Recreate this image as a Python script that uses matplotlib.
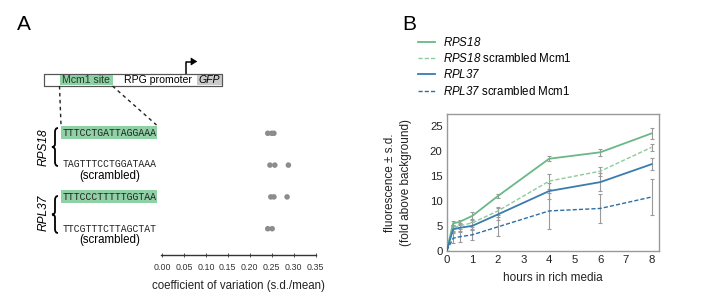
import matplotlib
matplotlib.use("Agg")
import matplotlib.pyplot as plt
from matplotlib.patches import Rectangle, FancyArrowPatch, PathPatch
from matplotlib.path import Path
from matplotlib.lines import Line2D

plt.rcParams['font.family'] = ['Liberation Sans', 'DejaVu Sans']
plt.rcParams['mathtext.fontset'] = 'custom'
plt.rcParams['mathtext.it'] = 'Liberation Sans:italic'
plt.rcParams['mathtext.rm'] = 'Liberation Sans:italic'

# ---------------- data ----------------
# Panel A: coefficient of variation per construct (replicates)
constructs = ["RPS18 wt", "RPS18 scrambled", "RPL37 wt", "RPL37 scrambled"]
sequences = ["TTTCCTGATTAGGAAA", "TAGTTTCCTGGATAAA", "TTTCCCTTTTTGGTAA", "TTCGTTTCTTAGCTAT"]
cv_rps18 = [0.241, 0.250, 0.255]
cv_rps18_scr = [0.246, 0.257, 0.288]
cv_rpl37 = [0.248, 0.255, 0.285]
cv_rpl37_scr = [0.241, 0.251]
cv_ticks = [0.00, 0.05, 0.10, 0.15, 0.20, 0.25, 0.30, 0.35]

# Panel B: fluorescence time course
hours = [0, 0.25, 0.5, 1, 2, 4, 6, 8]
rps18 = [0, 5.5, 5.8, 7.0, 11.0, 18.5, 19.8, 23.6]
rps18_err = [0, 0.4, 0.4, 0.8, 0.4, 0.5, 0.7, 1.1]
rps18_scr = [0, 4.6, 5.0, 5.6, 8.0, 14.0, 16.0, 20.8]
rps18_scr_err = [0, 0.6, 0.6, 0.8, 0.8, 1.5, 0.9, 0.7]
rpl37 = [0, 4.3, 4.6, 5.0, 7.3, 12.0, 13.8, 17.4]
rpl37_err = [0, 0.6, 0.6, 0.7, 1.2, 1.6, 1.8, 1.2]
rpl37_scr = [0, 2.5, 2.8, 3.2, 4.8, 8.0, 8.5, 10.8]
rpl37_scr_err = [0, 1.0, 1.0, 1.0, 1.9, 3.6, 3.0, 3.7]
b_xticks = [0, 1, 2, 3, 4, 5, 6, 7, 8]
b_yticks = [0, 5, 10, 15, 20, 25]

W, H = 707, 308
fig = plt.figure(figsize=(W / 100, H / 100), dpi=100)

def fax(l, t, r, b):
    return fig.add_axes([l / W, 1 - b / H, (r - l) / W, (b - t) / H])

# overlay axes in pixel coordinates for the schematic
ov = fax(0, 0, W, H)
ov.set_xlim(0, W)
ov.set_ylim(H, 0)
ov.axis('off')

GREEN_BOX = '#8fd0a5'
ov.text(17, 25, 'A', fontsize=15, va='center', ha='left')
ov.text(402, 25, 'B', fontsize=15, va='center', ha='left')

# promoter schematic
ov.add_patch(Rectangle((44, 73.5), 178, 12.3, facecolor='white', edgecolor='#555', lw=0.8))
ov.add_patch(Rectangle((59.5, 73.9), 53, 11.5, facecolor=GREEN_BOX, edgecolor='none'))
ov.add_patch(Rectangle((197, 73.9), 24.6, 11.5, facecolor='#c9c9c9', edgecolor='none'))
ov.add_patch(Rectangle((44, 73.5), 178, 12.3, facecolor='none', edgecolor='#555', lw=0.8))
ov.text(86, 80, 'Mcm1 site', fontsize=7.6, ha='center', va='center', color='#1d3b27')
ov.text(157.5, 80, 'RPG promoter', fontsize=7.6, ha='center', va='center')
ov.text(209.5, 80, 'GFP', fontsize=7.6, ha='center', va='center', style='italic')
ov.plot([186, 186, 194], [73.5, 61.5, 61.5], color='black', lw=1.1, solid_capstyle='butt')
ov.add_patch(FancyArrowPatch((193, 61.5), (200, 61.5), arrowstyle='-|>,head_length=4,head_width=2.5',
                             color='black', lw=0.5, mutation_scale=1))
ov.plot([59.5, 61], [86, 125], color='#222', lw=1, ls=(0, (2.5, 2.5)))
ov.plot([112.5, 156.5], [86, 125], color='#222', lw=1, ls=(0, (2.5, 2.5)))

row_y = [132.5, 164, 196.5, 228.5]
for i, (seq, y) in enumerate(zip(sequences, row_y)):
    if i in (0, 2):
        ov.add_patch(Rectangle((61, y - 6.5), 95.5, 13, facecolor=GREEN_BOX, edgecolor='none'))
    ov.text(62.5, y, seq, fontsize=7, family='Liberation Mono', ha='left', va='center', color='#222')
    if i in (1, 3):
        ov.text(109.5, y + 11.5, '(scrambled)', fontsize=8.3, ha='center', va='center')

def brace(x, y0, y1):
    ym = (y0 + y1) / 2
    w = 3.0
    verts = [(x + w, y0), (x, y0), (x, y0 + 4), (x, ym - 3), (x, ym), (x - w, ym),
             (x, ym), (x, ym + 3), (x, y1 - 4), (x, y1), (x + w, y1)]
    codes = [Path.MOVETO, Path.CURVE3, Path.CURVE3, Path.LINETO, Path.CURVE3, Path.CURVE3,
             Path.CURVE3, Path.CURVE3, Path.LINETO, Path.CURVE3, Path.CURVE3]
    ov.add_patch(PathPatch(Path(verts, codes), facecolor='none', edgecolor='black', lw=1.3))

brace(55, 128, 166)
brace(55, 196, 233)
ov.text(43.5, 147, 'RPS18', rotation=90, style='italic', fontsize=8.6, ha='center', va='center')
ov.text(43.5, 213, 'RPL37', rotation=90, style='italic', fontsize=8.6, ha='center', va='center')

# ---------- panel A dot plot ----------
axa = fax(162, 120, 315.6, 255)
cv_sets = [cv_rps18, cv_rps18_scr, cv_rpl37, cv_rpl37_scr]
for i, vals in enumerate(cv_sets):
    axa.scatter(vals, [i] * len(vals), s=16, color='#8c8c8c', edgecolor='none', zorder=3)
axa.set_xlim(0, 0.35)
axa.set_ylim(3.827, -0.418)
axa.set_xticks(cv_ticks)
axa.set_xticklabels([f'{t:.2f}' for t in cv_ticks], fontsize=6.4, color='#333')
axa.tick_params(axis='x', direction='inout', length=3, width=0.6, color='#333', pad=4)
axa.set_yticks([])
for s in ('top', 'right', 'left'):
    axa.spines[s].set_visible(False)
axa.spines['bottom'].set_color('#333')
axa.spines['bottom'].set_linewidth(1.0)
axa.spines['bottom'].set_bounds(-0.002, 0.352)
axa.patch.set_alpha(0)
axa.set_xlabel('coefficient of variation (s.d./mean)', fontsize=8.3, labelpad=6, color='#222')

# ---------- panel B ----------
axb = fax(446.7, 114, 659, 250.7)
C_G = '#6ab887'
C_G2 = '#8ccb9f'
C_B = '#3a7cac'
C_B2 = '#2f6ea3'
ERR = '#9a9a9a'
series = [
    (rps18, rps18_err, C_G, '-', r'$RPS18$'),
    (rps18_scr, rps18_scr_err, C_G2, '--', r'$RPS18$ scrambled Mcm1'),
    (rpl37, rpl37_err, C_B, '-', r'$RPL37$'),
    (rpl37_scr, rpl37_scr_err, C_B2, '--', r'$RPL37$ scrambled Mcm1'),
]
handles = []
for vals, err, col, ls, lab in series:
    axb.errorbar(hours, vals, yerr=err, fmt='none', ecolor=ERR, elinewidth=0.8, capsize=1.5, capthick=0.8, zorder=2)
    dash = (0, (3, 1.5)) if ls == '--' else '-'
    axb.plot(hours, vals, color=col, lw=1.3 if ls == '-' else 1.0, ls=dash, zorder=3)
    handles.append(Line2D([], [], color=col, lw=1.3 if ls == '-' else 1.0, ls=dash, label=lab))
axb.set_xlim(0, 8.29)
axb.set_ylim(0, 27.5)
axb.set_xticks(b_xticks)
axb.set_yticks(b_yticks)
axb.tick_params(length=0, labelsize=8.2, pad=3, labelcolor='#222')
for s in axb.spines.values():
    s.set_color('#999')
    s.set_linewidth(1.0)
axb.set_xlabel('hours in rich media', fontsize=8.5, labelpad=5, color='#222')
axb.set_ylabel('fluorescence \u00b1 s.d.\n(fold above background)', fontsize=8.5, labelpad=13,
               linespacing=1.45, color='#222')

fig.legend(handles=handles, loc='upper left', bbox_to_anchor=(418 / W, 1 - 36 / H), frameon=False,
           fontsize=8.3, handlelength=1.5, handletextpad=0.7, labelspacing=0.28, borderpad=0,
           borderaxespad=0)

fig.savefig('out.png', dpi=100)
